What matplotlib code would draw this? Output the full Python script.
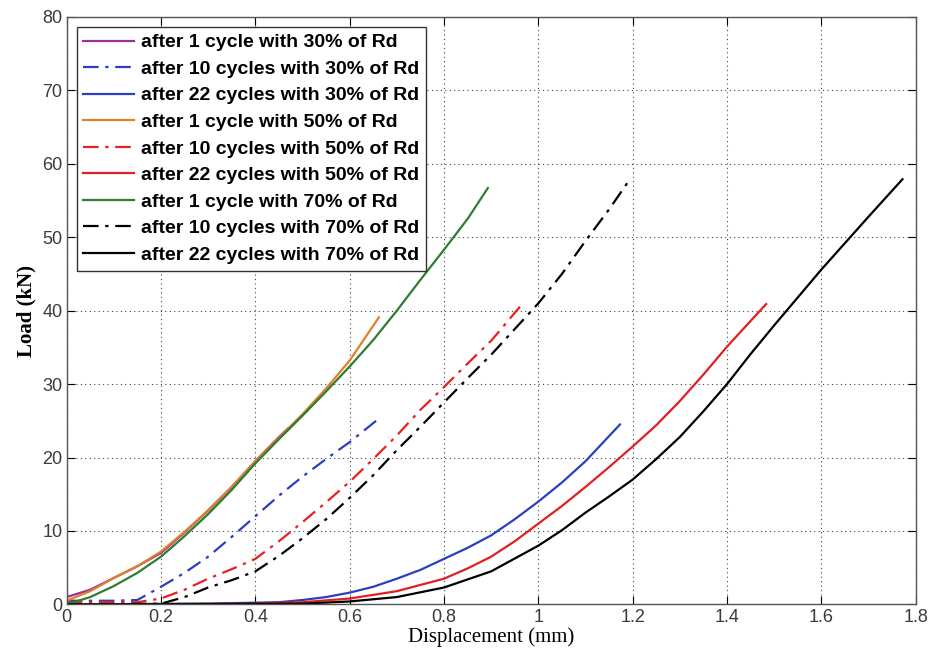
import matplotlib.pyplot as plt

# Load-displacement curves (displacement in mm, load in kN)
x_1c_30 = [0.0, 0.05, 0.1, 0.15, 0.2, 0.25, 0.3, 0.35, 0.4, 0.45, 0.47]
y_1c_30 = [1.0, 2.0, 3.6, 5.2, 7.0, 9.8, 12.8, 16.0, 19.5, 22.8, 24.0]

x_10c_30 = [0.0, 0.1, 0.15, 0.2, 0.25, 0.3, 0.35, 0.4, 0.45, 0.5, 0.55, 0.6, 0.656]
y_10c_30 = [0.5, 0.5, 0.6, 2.4, 4.3, 6.5, 9.2, 12.0, 14.8, 17.4, 19.8, 22.1, 25.0]

x_22c_30 = [0.0, 0.3, 0.45, 0.5, 0.55, 0.6, 0.65, 0.7, 0.75, 0.8, 0.85, 0.9, 0.95, 1.0, 1.05, 1.1, 1.173]
y_22c_30 = [0.0, 0.1, 0.3, 0.6, 1.0, 1.6, 2.4, 3.5, 4.7, 6.2, 7.7, 9.4, 11.6, 14.0, 16.6, 19.5, 24.5]

x_1c_50 = [0.0, 0.05, 0.1, 0.15, 0.2, 0.25, 0.3, 0.35, 0.4, 0.45, 0.5, 0.55, 0.6, 0.662]
y_1c_50 = [0.5, 1.8, 3.6, 5.2, 7.2, 9.9, 12.8, 16.0, 19.5, 22.7, 25.9, 29.4, 33.2, 39.1]

x_10c_50 = [0.0, 0.15, 0.2, 0.25, 0.3, 0.35, 0.4, 0.45, 0.5, 0.55, 0.6, 0.65, 0.7, 0.75, 0.8, 0.85, 0.9, 0.963]
y_10c_50 = [0.3, 0.3, 0.8, 2.0, 3.5, 4.8, 6.2, 8.6, 11.2, 13.9, 16.7, 19.8, 23.0, 26.5, 29.6, 32.8, 35.9, 40.7]

x_22c_50 = [0.0, 0.4, 0.5, 0.6, 0.7, 0.8, 0.85, 0.9, 0.95, 1.0, 1.05, 1.1, 1.15, 1.2, 1.25, 1.3, 1.35, 1.4, 1.45, 1.483]
y_22c_50 = [0.0, 0.1, 0.3, 0.8, 1.8, 3.5, 4.9, 6.5, 8.6, 11.0, 13.4, 16.0, 18.7, 21.5, 24.4, 27.7, 31.3, 35.1, 38.6, 40.9]

x_1c_70 = [0.0, 0.05, 0.1, 0.15, 0.2, 0.25, 0.3, 0.35, 0.4, 0.45, 0.5, 0.55, 0.6, 0.65, 0.7, 0.75, 0.8, 0.85, 0.893]
y_1c_70 = [0.0, 1.0, 2.5, 4.3, 6.5, 9.3, 12.3, 15.6, 19.2, 22.5, 25.7, 29.0, 32.4, 36.0, 40.0, 44.2, 48.3, 52.5, 56.7]

x_10c_70 = [0.0, 0.2, 0.25, 0.3, 0.35, 0.4, 0.45, 0.5, 0.55, 0.6, 0.65, 0.7, 0.75, 0.8, 0.85, 0.9, 0.95, 1.0, 1.05, 1.1, 1.15, 1.192]
y_10c_70 = [0.0, 0.1, 1.0, 2.3, 3.3, 4.5, 6.6, 9.0, 11.6, 14.5, 17.6, 21.0, 24.2, 27.5, 30.8, 34.0, 37.5, 41.0, 45.0, 49.5, 53.8, 57.7]

x_22c_70 = [0.0, 0.5, 0.6, 0.7, 0.8, 0.9, 1.0, 1.05, 1.1, 1.15, 1.2, 1.25, 1.3, 1.35, 1.4, 1.45, 1.5, 1.55, 1.6, 1.65, 1.7, 1.772]
y_22c_70 = [0.0, 0.1, 0.4, 1.0, 2.3, 4.5, 8.0, 10.1, 12.5, 14.7, 17.0, 19.8, 22.8, 26.3, 30.0, 34.1, 38.0, 41.8, 45.6, 49.2, 52.8, 57.9]

labels = [
    'after 1 cycle with 30% of Rd',
    'after 10 cycles with 30% of Rd',
    'after 22 cycles with 30% of Rd',
    'after 1 cycle with 50% of Rd',
    'after 10 cycles with 50% of Rd',
    'after 22 cycles with 50% of Rd',
    'after 1 cycle with 70% of Rd',
    'after 10 cycles with 70% of Rd',
    'after 22 cycles with 70% of Rd',
]

dashdot = (0, (7, 3, 1.5, 3))
fig = plt.figure(figsize=(9.32, 6.52), dpi=100)
ax = fig.add_axes([0.0715, 0.073, 0.911, 0.901])

ax.plot(x_1c_30, y_1c_30, color='#9b2fa0', lw=1.6, label=labels[0])
ax.plot(x_10c_30, y_10c_30, color='#2b3fbf', lw=1.6, linestyle=dashdot, label=labels[1])
ax.plot(x_22c_30, y_22c_30, color='#2b3fbf', lw=1.6, label=labels[2])
ax.plot(x_1c_50, y_1c_50, color='#e0802a', lw=1.6, label=labels[3])
ax.plot(x_10c_50, y_10c_50, color='#e82020', lw=1.6, linestyle=dashdot, label=labels[4])
ax.plot(x_22c_50, y_22c_50, color='#e02020', lw=1.6, label=labels[5])
ax.plot(x_1c_70, y_1c_70, color='#2e7d32', lw=1.6, label=labels[6])
ax.plot(x_10c_70, y_10c_70, color='black', lw=1.6, linestyle=dashdot, label=labels[7])
ax.plot(x_22c_70, y_22c_70, color='black', lw=1.6, label=labels[8])

ax.set_xlim(0, 1.8)
ax.set_ylim(0, 80)
ax.set_xticks([0, 0.2, 0.4, 0.6, 0.8, 1, 1.2, 1.4, 1.6, 1.8])
ax.set_xticklabels(['0', '0.2', '0.4', '0.6', '0.8', '1', '1.2', '1.4', '1.6', '1.8'])
ax.set_yticks(range(0, 81, 10))
ax.grid(True, linestyle=(0, (1, 3)), color='#444444', linewidth=0.8)
ax.tick_params(direction='in', top=True, right=True, length=6, width=0.8,
               labelsize=13, labelcolor='#3a3a3a', pad=3)
for lab in ax.get_xticklabels() + ax.get_yticklabels():
    lab.set_family('Liberation Sans')
for sp in ax.spines.values():
    sp.set_color('#555555')
    sp.set_linewidth(1.0)

ax.set_xlabel('Displacement (mm)', family='Liberation Serif', fontsize=15, labelpad=1)
ax.set_ylabel('Load (kN)', family='Liberation Serif', fontsize=15, fontweight='bold', labelpad=4)

leg = ax.legend(loc='upper left', bbox_to_anchor=(0.0118, 0.983), borderaxespad=0,
                fancybox=False,
                prop={'family': 'Liberation Sans', 'weight': 'bold', 'size': 14},
                handlelength=2.58, handletextpad=0.4, labelspacing=0.46,
                borderpad=0.35, framealpha=1)
leg.get_frame().set_edgecolor('#333333')
leg.get_frame().set_linewidth(1.0)

plt.savefig('out.png', dpi=100)
